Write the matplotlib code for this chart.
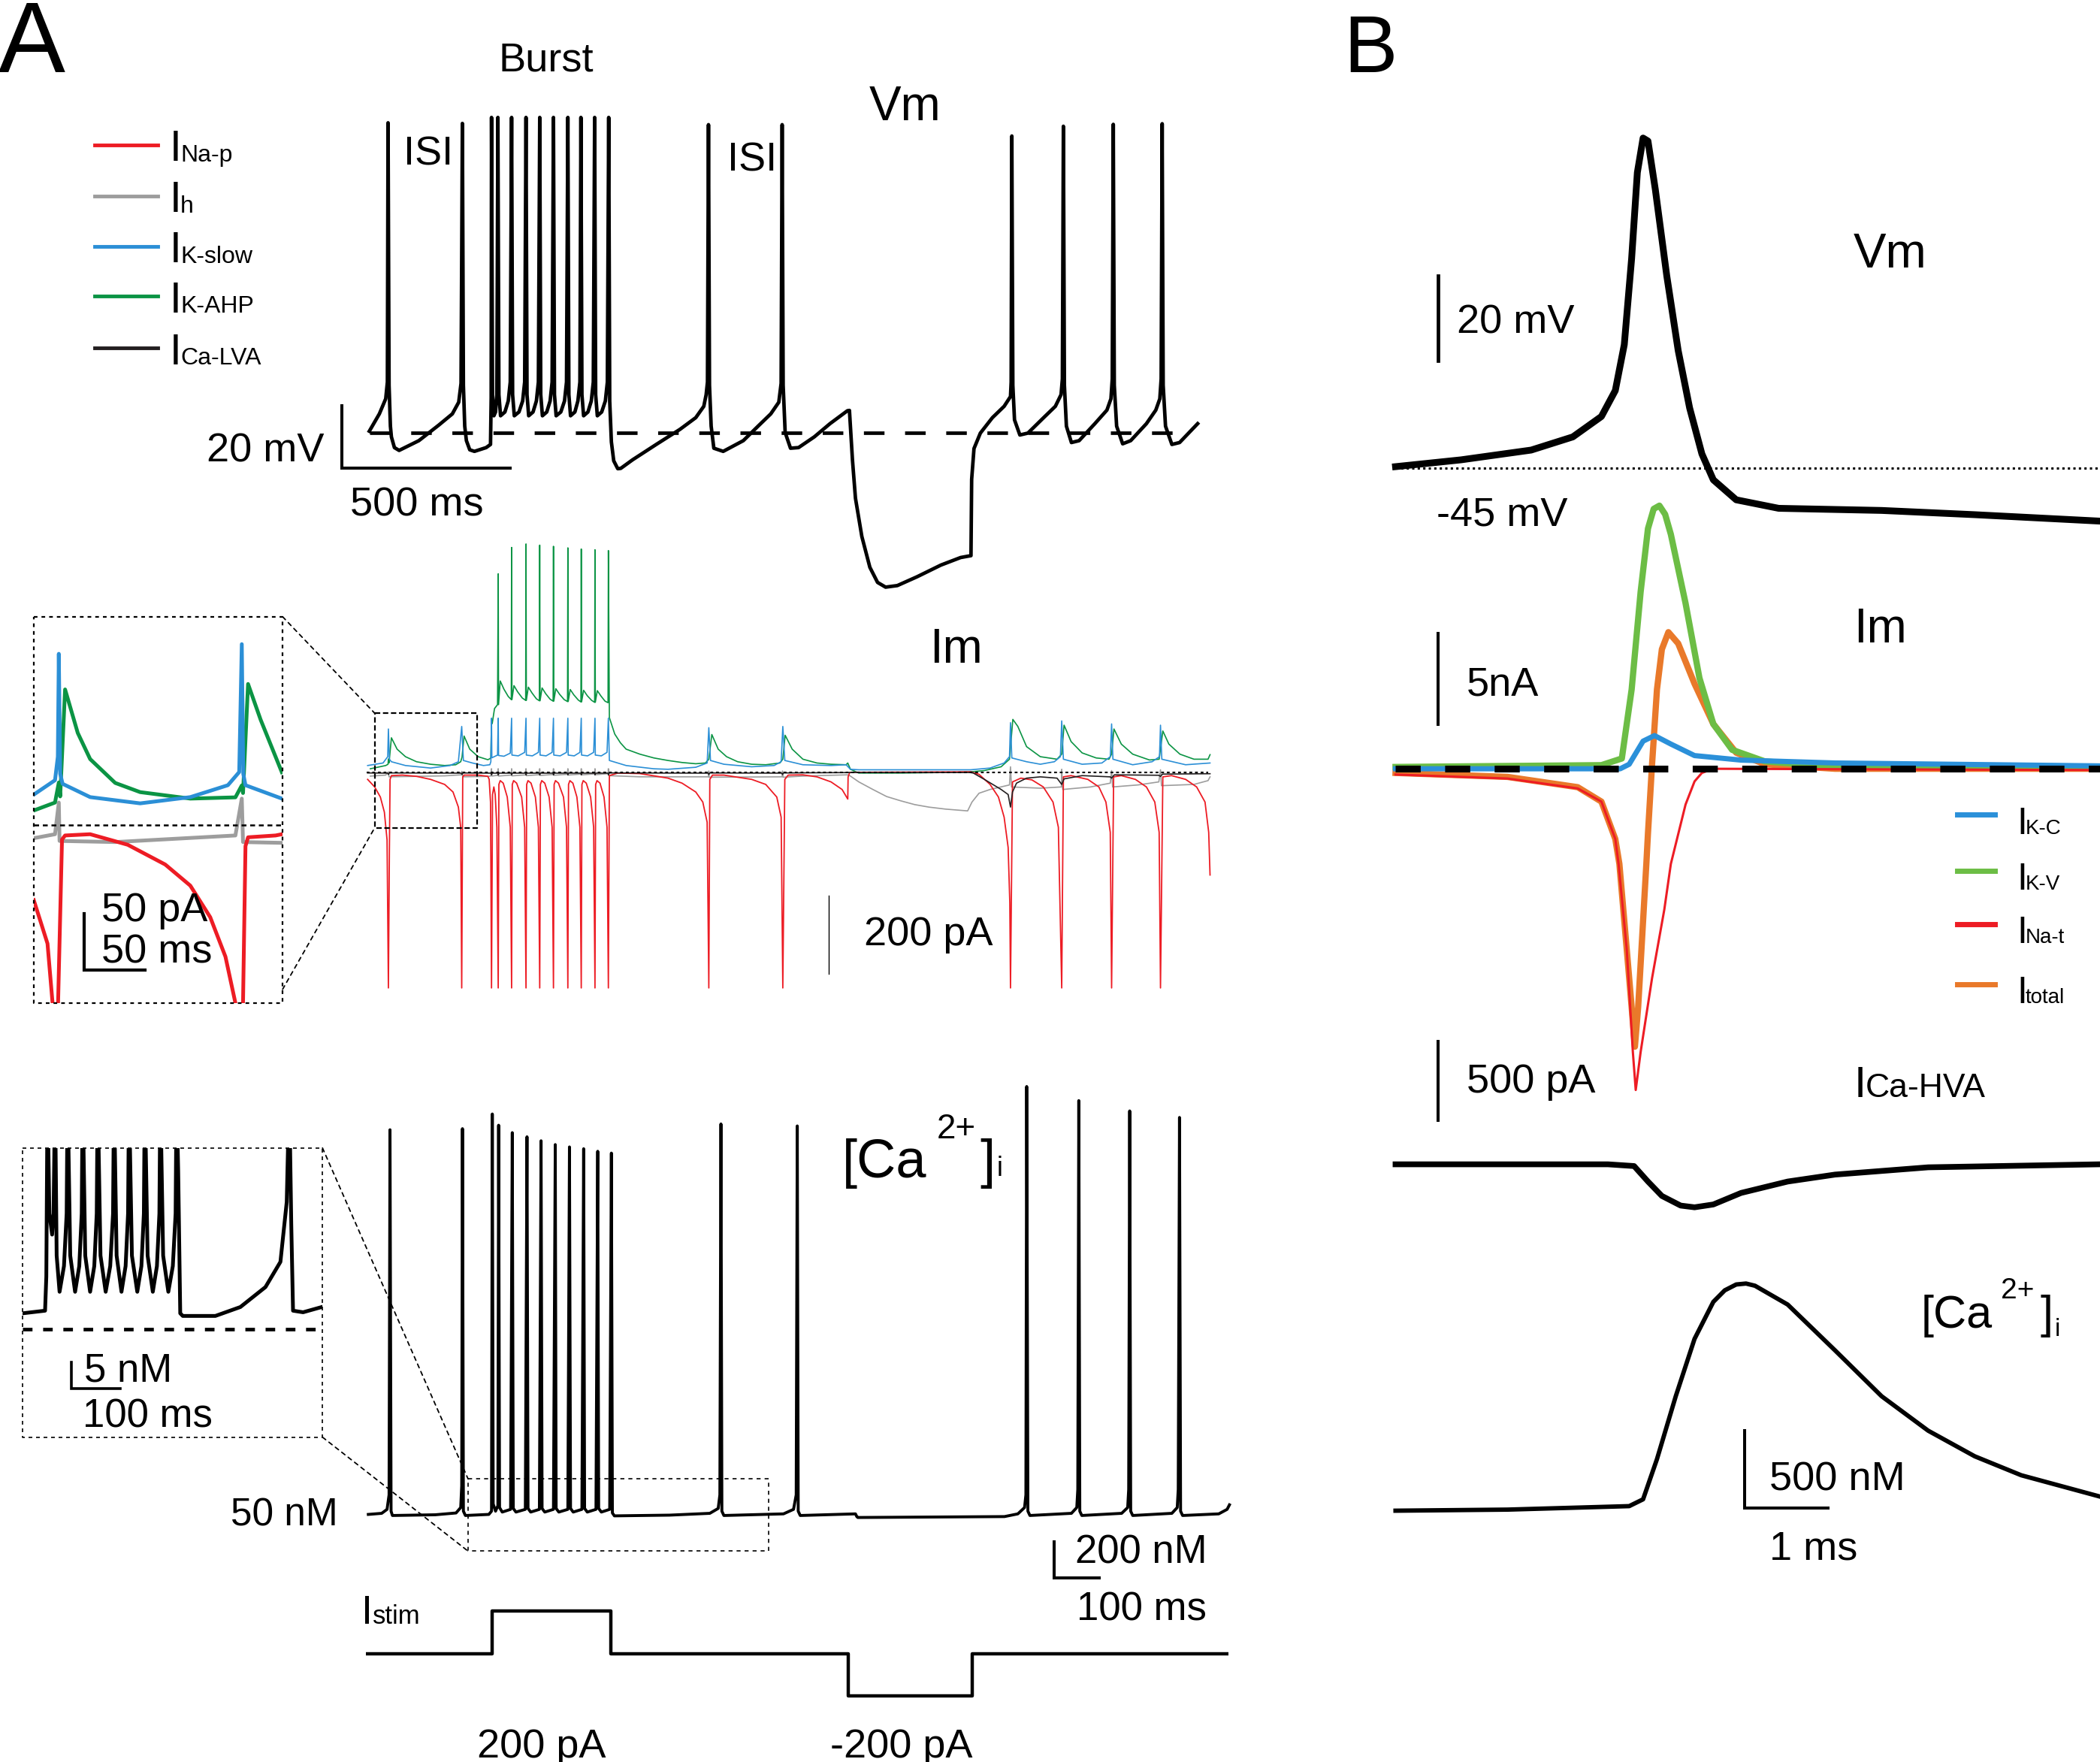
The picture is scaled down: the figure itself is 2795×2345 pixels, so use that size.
"""
Simulated burst firing: membrane potential, ionic currents, intracellular
calcium and stimulus (panel A), single action potential close-up (panel B).
"""

import matplotlib
matplotlib.use("Agg")
import matplotlib.pyplot as plt
from matplotlib.lines import Line2D
from matplotlib.patches import ConnectionPatch

plt.rcParams["font.family"] = ["Liberation Sans", "DejaVu Sans"]

# ---------------------------------------------------------------------------
# Panel A data  (time in ms, Vm in mV, currents in pA, [Ca2+]i in nM)
# ---------------------------------------------------------------------------

VM_A = [
    (3, -59.6), (33, -54.1), (52, -49.3), (57, -44), (59, 38.3), (62, -45), (66, -58), (69, -61.4),
    (78, -64.8), (92, -65.7), (151, -62.6), (210, -57.7), (251, -54.1), (270, -50.4), (277, -44.4),
    (281, 38.1), (284, -45), (288, -58), (293, -62.6), (303, -65.5), (317, -66), (352, -64.8),
    (365, -63.8), (367, -49),
    (368, 40), (371, -48), (375, -54.7), (380, -53.5), (384, -48), (387, 40),
    (390, -48), (395, -54.7), (408, -53.5), (418, -50), (424, -44), (428, 40),
    (431, -48), (436, -54.7), (450, -53.5), (461, -50), (467, -44), (471, 40),
    (474, -48), (479, -54.7), (492, -53.5), (502, -50), (508, -44), (512, 40),
    (515, -48), (520, -54.7), (533, -53.5), (543, -50), (549, -44), (553, 40),
    (556, -48), (561, -54.7), (575, -53.5), (586, -50), (592, -44), (596, 40),
    (599, -48), (604, -54.7), (617, -53.5), (626, -50), (632, -44), (635, 40),
    (638, -48), (643, -54.7), (656, -53.5), (666, -50), (672, -44), (676, 40),
    (679, -48), (684, -54.7), (697, -53.5), (708, -50), (714, -44), (718, 40),
    (721, -50), (726, -63), (733, -69), (745, -71.5), (754, -71.4),
    (789, -68.7), (860, -63.8), (931, -59), (978, -55.3), (1002, -51.7), (1009, -48), (1013, -44),
    (1016, 37.7), (1019, -45), (1024, -58), (1032, -65), (1060, -66), (1120, -62.6), (1167, -57.7),
    (1202, -54.1), (1226, -50.4), (1233, -44.4), (1236, 37.7), (1239, -45), (1245, -60), (1261, -65),
    (1285, -64.8), (1332, -61.4), (1379, -57.2), (1431, -53.1), (1437, -53),
    (1446, -68.7), (1455, -80.9), (1474, -93), (1498, -102.8), (1521, -107.6), (1545, -109.1),
    (1580, -108.6), (1639, -105.8), (1710, -102.1), (1769, -99.7), (1800, -99.1),
    (1802, -74.9), (1809, -65.1), (1828, -60.2), (1864, -55.3), (1899, -51.7), (1918, -48.6),
    (1920, -44), (1922, 34.1), (1925, -45), (1930, -56), (1946, -60.8), (1970, -60.2), (2017, -55.3),
    (2052, -51.7), (2069, -48), (2073, -43), (2076, 37.2), (2079, -45), (2085, -58), (2100, -63.2),
    (2123, -62.6), (2170, -57.2), (2206, -52.9), (2218, -49.3), (2222, -43), (2225, 37.8),
    (2228, -45), (2235, -58), (2253, -63.6), (2277, -62.6), (2324, -57.2), (2352, -52.9),
    (2364, -49.3), (2368, -43), (2371, 38), (2374, -45), (2381, -58), (2400, -63.8), (2423, -63.2),
    (2477, -57.2),
]

I_NAP = [
    (-2, -17.6), (19, -37.1), (36, -63.1), (48, -102), (56, -173.5), (60, -555), (63, -200), (65, -17.6),
    (69, -7.9), (102, -6.6), (144, -9.8), (186, -17.6), (228, -30.6), (253, -50.1), (269, -89),
    (276, -141), (279, -555), (282, -11.1), (286, -6.6), (328, -6.6), (357, -9.8), (361, -17.6),
    (365, -76), (368, -555), (371, -56.6), (375, -37.1), (379, -56.6), (384, -141), (388, -555),
    (390, -30.6), (394, -20.8), (403, -27.3), (415, -63.1), (424, -141), (428, -555),
    (430, -30.6), (434, -20.8), (443, -27.3), (458, -63.1), (467, -141), (471, -555),
    (473, -30.6), (477, -20.8), (486, -27.3), (499, -63.1), (508, -141), (512, -555),
    (514, -30.6), (518, -20.8), (527, -27.3), (540, -63.1), (549, -141), (553, -555),
    (555, -30.6), (559, -20.8), (568, -27.3), (583, -63.1), (592, -141), (596, -555),
    (598, -30.6), (602, -20.8), (611, -27.3), (623, -63.1), (632, -141), (636, -555),
    (638, -30.6), (642, -20.8), (651, -27.3), (664, -63.1), (673, -141), (677, -555),
    (679, -30.6), (683, -20.8), (692, -27.3), (704, -63.1), (713, -141), (717, -555),
    (720, -7.9), (745, -1.3), (811, -2.6), (895, -14.4), (937, -27.3), (978, -50.1), (999, -76),
    (1012, -128), (1017, -555), (1020, -17.6), (1028, -6.6), (1062, -6.6), (1145, -17.6),
    (1187, -30.6), (1220, -63.1), (1233, -115), (1238, -555), (1244, -17.6), (1254, -6.6),
    (1298, -5.9), (1340, -11.1), (1382, -24.1), (1415, -43.6), (1432, -68.3), (1433, -11.1),
    (1438, 0.5), (1799, 1.9), (1824, -4.6), (1857, -30.6), (1882, -63.1), (1899, -115), (1911, -193),
    (1916, -336), (1918, -555), (1924, -24.1), (1949, -14.4), (1982, -18.9), (2016, -37.1),
    (2045, -76), (2061, -141), (2071, -555), (2076, -11.1), (2099, -7.9), (2149, -17.6),
    (2182, -37.1), (2203, -76), (2216, -154), (2220, -555), (2226, -11.1), (2249, -7.9),
    (2291, -17.6), (2324, -37.1), (2349, -76), (2362, -154), (2366, -555), (2373, -11.1),
    (2399, -7.9), (2441, -17.6), (2474, -37.1), (2499, -76), (2510, -154), (2514, -264),
]

I_H = [
    (6, -9.2), (52, -6.6), (60, 2), (62, -11), (228, -8.5), (277, -5.9), (279, 3), (282, -11),
    (361, -9.8), (367, -8), (368, 10), (369, -9), (387, -7), (388, 10), (389, -9), (427, -6.5),
    (428, 10), (429, -8.5), (470, -6), (471, 10), (472, -8), (511, -5.5), (512, 10), (513, -7.5),
    (552, -5), (553, 10), (554, -7), (595, -4.5), (596, 10), (597, -6.5), (635, -4), (636, 10),
    (637, -6), (676, -3.5), (677, 10), (678, -5.5), (716, -3), (717, 10), (718, -8), (811, -11),
    (1016, -11), (1017, 4), (1018, -12), (1236, -11), (1237, 4), (1239, -12), (1300, -9),
    (1431, -5.9), (1438, -8), (1465, -24.1), (1507, -43.6), (1548, -61.8), (1590, -72.8),
    (1632, -82.6), (1674, -89), (1724, -94.2), (1790, -98.8), (1803, -76), (1824, -53.3),
    (1857, -43.6), (1915, -31.9), (1918, 14.9), (1921, -37.1), (2007, -40.3), (2070, -37.1),
    (2071, 8.4), (2074, -43.6), (2157, -37.1), (2216, -27.3), (2220, 5.1), (2223, -37.1),
    (2299, -31.9), (2361, -24.1), (2366, 7.1), (2369, -33.8), (2466, -30.6), (2508, -20.8),
    (2514, -11.1),
]

I_KSLOW = [
    (-2, 18.1), (44, 24.6), (58, 40.9), (60, 112.3), (63, 34.4), (69, 27.9), (111, 18.1), (186, 11.6),
    (244, 18.1), (269, 27.9), (279, 118.8), (284, 31.1), (311, 24.6), (344, 18.1), (363, 20.1),
    (366, 28), (368, 140), (369, 38), (386, 45), (388, 140), (389, 44), (405, 42), (424, 50),
    (428, 140), (429, 45), (448, 43), (467, 52), (471, 140), (472, 45), (490, 43), (508, 52),
    (512, 140), (513, 45), (531, 43), (549, 52), (553, 140), (554, 45), (573, 43), (592, 52),
    (596, 140), (597, 45), (615, 43), (632, 52), (636, 140), (637, 45), (655, 43), (673, 52),
    (677, 140), (678, 45), (696, 43), (713, 52), (717, 140), (720, 31.1), (770, 18.1), (853, 9.7),
    (895, 8.4), (978, 13.6), (1012, 24.6), (1017, 115.6), (1022, 31.1), (1062, 21.4), (1145, 14.9),
    (1212, 18.1), (1233, 27.9), (1238, 118.8), (1244, 31.1), (1298, 20.1), (1382, 18.1),
    (1427, 20.1), (1440, 8.4), (1465, 7.1), (1799, 7.1), (1857, 11.6), (1899, 24.6), (1915, 40.9),
    (1918, 128.5), (1922, 37.6), (1966, 27.9), (2007, 21.4), (2049, 27.9), (2067, 40.9),
    (2071, 133.1), (2076, 34.4), (2132, 21.4), (2191, 24.6), (2216, 40.9), (2220, 125.3),
    (2224, 34.4), (2283, 20.1), (2341, 27.9), (2363, 40.9), (2366, 122.1), (2370, 34.4),
    (2441, 20.1), (2514, 24.6),
]

I_KAHP = [
    (6, 9.7), (52, 18.1), (59, 21.4), (60, 35), (62, 25), (69, 89.6), (86, 60.3), (111, 40.9),
    (144, 27.9), (186, 21.4), (228, 18.1), (261, 20.1), (276, 27.9), (280, 40), (286, 94.1),
    (303, 60.3), (328, 40.9), (357, 33.1), (363, 35.7), (366, 38), (368, 136), (370, 126),
    (377, 165), (386, 175), (388, 512), (389, 175), (394, 236), (405, 215), (418, 196), (427, 188),
    (428, 580), (429, 188), (435, 224), (446, 208), (460, 192), (470, 186),
    (471, 589), (472, 186), (478, 220), (489, 205), (502, 190), (511, 185),
    (512, 586), (513, 185), (519, 218), (530, 203), (543, 189), (552, 184),
    (553, 583), (554, 184), (560, 216), (571, 202), (585, 188), (595, 183),
    (596, 579), (597, 183), (603, 214), (614, 200), (627, 187), (635, 182),
    (636, 576), (637, 182), (643, 212), (654, 198), (667, 186), (676, 181),
    (677, 574), (678, 181), (684, 211), (695, 197), (707, 184), (716, 180),
    (717, 572), (720, 141.5), (736, 99.3), (753, 76.6), (770, 60.3), (811, 47.4), (853, 37.6),
    (895, 31.1), (937, 25.9), (978, 22.7), (1007, 24.6), (1017, 34.4), (1026, 98), (1045, 60.3),
    (1070, 40.9), (1103, 27.9), (1145, 21.4), (1187, 20.1), (1229, 24.6), (1238, 34.4),
    (1245, 96.1), (1266, 60.3), (1298, 34.4), (1340, 24.6), (1382, 21.4), (1427, 20.1),
    (1432, 24.6), (1440, 8.4), (1465, -1.3), (1590, -1.3), (1757, 0.6), (1799, 1.9), (1840, 5.1),
    (1890, 14.9), (1915, 34.4), (1925, 137), (1940, 118.8), (1966, 66.8), (2007, 40.9),
    (2057, 34.4), (2071, 47.4), (2078, 122.1), (2099, 79.8), (2132, 50.6), (2174, 37.6),
    (2212, 34.4), (2220, 47.4), (2227, 112.3), (2249, 73.3), (2283, 47.4), (2333, 32.4),
    (2362, 34.4), (2373, 107.1), (2391, 73.3), (2424, 47.4), (2466, 34.4), (2508, 34.4),
    (2514, 46.1),
]

I_CALVA = [
    (-2, -1), (58, -1.5), (60, -5), (63, -1), (278, -1.5), (280, -5), (283, -1), (366, -1.5),
    (368, -6), (370, -1.5), (387, -1.5), (388, -6), (390, -1.5), (427, -1.5), (428, -6),
    (430, -1.5), (470, -1.5), (471, -6), (473, -1.5), (511, -1.5), (512, -6), (514, -1.5),
    (552, -1.5), (553, -6), (555, -1.5), (595, -1.5), (596, -6), (598, -1.5), (635, -1.5),
    (636, -6), (638, -1.5), (676, -1.5), (677, -6), (679, -1.5), (716, -1.5), (717, -6),
    (720, -1), (1015, -1.5), (1017, -5), (1020, -1), (1235, -1.5), (1237, -5), (1240, -1),
    (1438, 0), (1799, 0), (1807, -1.3), (1840, -17.6), (1890, -43.6), (1911, -56.6), (1918, -89),
    (1924, -50.1), (1936, -27.3), (1966, -14.4), (2007, -11.1), (2057, -14.4), (2071, -30.6),
    (2078, -16.3), (2132, -7.9), (2216, -11.1), (2220, -14.4), (2228, -5.9), (2361, -7),
    (2366, -10), (2372, -4), (2514, -3),
]

CA_A = [
    (0, 42), (40, 48), (56, 70), (62, 150), (64.8, 2168), (68, 60), (72, 36), (200, 40), (262, 50),
    (276, 80), (279, 200), (281.2, 2174), (284, 60), (290, 36), (360, 42), (368, 60),
    (370.4, 2255), (373, 100), (380, 60), (387, 90), (389.2, 2193), (392, 80), (400, 55), (425, 70),
    (430, 2152), (433, 75), (441, 55), (469, 70), (474, 2129), (477, 75), (485, 55), (511, 70),
    (516, 2107), (519, 75), (527, 55), (553, 70), (558.4, 2086), (561, 75), (569, 55), (596, 70),
    (600.8, 2073), (604, 75), (612, 55), (638, 70), (643.2, 2063), (646, 75), (654, 55), (680, 70),
    (685.2, 2049), (688, 75), (696, 55), (721, 70), (726, 2039), (729, 50), (735, 34), (900, 38),
    (1020, 48), (1045, 75), (1050, 150), (1053.2, 2200), (1056, 60), (1062, 36), (1240, 45),
    (1270, 70), (1278, 150), (1281.2, 2189), (1284, 60), (1290, 36), (1455, 45), (1459, 30),
    (1462, 25), (1900, 30), (1940, 45), (1960, 80), (1964, 150), (1966.4, 2407), (1970, 60),
    (1976, 36), (2100, 48), (2116, 80), (2119, 180), (2122, 2329), (2125, 60), (2131, 36),
    (2250, 48), (2268, 80), (2271, 180), (2274, 2272), (2277, 60), (2283, 36), (2400, 48),
    (2416, 80), (2419, 180), (2422.8, 2236), (2426, 60), (2432, 36), (2540, 45), (2565, 70),
    (2572, 95),
]

STIM = [(-8, 0), (369, 0), (369, 200), (725, 200), (725, 0), (1434, 0), (1434, -200),
        (1804, -200), (1804, 0), (2568, 0)]

# zoomed insets (own ms / pA / nM scales)
INS_KSLOW = [(0, 26.6), (17.3, 39.3), (19.6, 60), (20.4, 150.7), (21.5, 45), (23.5, 36.1),
             (45.9, 24.4), (86.6, 18.9), (127.4, 24.4), (158.0, 34.9), (167.2, 46.5),
             (169.3, 159.2), (170.5, 45), (172.3, 34.9), (201.9, 23.1)]
INS_KAHP = [(0, 12.6), (17.3, 19.6), (20.4, 37.3), (21.5, 25), (25.5, 119.3), (35.8, 81.0),
            (45.9, 57.9), (66.3, 36.9), (86.6, 28.8), (127.4, 23.1), (164.1, 24.2), (169.3, 34.7),
            (170.3, 28), (174.4, 124.1), (184.6, 92.7), (201.9, 46.3)]
INS_H = [(0, -11.8), (17.3, -8.3), (20.4, 19.6), (21.0, -14.2), (66.3, -15.2), (164.1, -9.4),
         (169.3, 23.1), (170.3, -15.2), (201.9, -15.9)]
INS_NAP = [(0, -66.3), (11.2, -104.7), (15.3, -157), (17.5, -400), (19.8, -157), (23.0, -13),
           (25.5, -9.4), (45.9, -8.3), (76.5, -17.6), (107, -35), (127.4, -53.6), (143.6, -81.4),
           (156, -116.2), (164.1, -157), (167, -400), (170.3, -157), (172.3, -18.8), (174.4, -11),
           (196.8, -9.4), (201.9, -8.3)]
INS_CA = [
    (0, 53.0), (48.7, 53.5), (51.4, 60), (54.0, 95), (58, 72), (63.9, 68), (67, 72), (70.3, 95),
    (73.7, 64), (80, 57.1), (89.5, 62), (95.3, 72), (97.3, 95),
    (103, 64), (113.5, 57.1), (122.5, 62), (127.8, 72), (129.8, 95),
    (135.4, 64), (145.9, 57.1), (154.9, 62), (160.2, 72), (162.2, 95),
    (168.3, 64), (179.5, 57.1), (189.3, 62), (195.4, 72), (197.4, 95),
    (203.1, 64), (213.6, 57.1), (222.5, 62), (227.8, 72), (229.8, 95),
    (236.1, 64), (247.7, 57.1), (256.6, 62), (261.9, 72), (263.9, 95),
    (270, 64), (281.2, 57.1), (290.1, 62), (295.4, 72), (297.4, 95),
    (303.5, 64), (314.7, 57.1), (324.4, 62), (330.4, 72), (332.4, 95),
    (336, 80), (340.4, 53), (345.9, 52.5), (416.2, 52.5), (470.2, 54.2), (524.3, 58.0),
    (556.6, 62.8), (570.2, 74.2), (575.7, 95), (580, 70), (583.8, 53.5), (605.5, 53.2),
    (645.9, 54.2),
]

# ---------------------------------------------------------------------------
# Panel B data  (time in ms)
# ---------------------------------------------------------------------------

VM_B = [(0, -44.6), (0.80, -43.0), (1.66, -40.7), (2.17, -37.6), (2.52, -32.8), (2.69, -26.7),
        (2.80, -15.9), (2.89, 4.4), (2.96, 24.6), (3.03, 32.7), (3.09, 32.0), (3.18, 20.6),
        (3.32, 0.3), (3.46, -17.3), (3.60, -30.8), (3.75, -41.6), (3.89, -47.7), (4.17, -52.4),
        (4.69, -54.4), (5.95, -54.9), (7.09, -55.9), (8.61, -57.4)]
I_KV = [(0, 0.1), (2.52, 0.2), (2.77, 0.57), (2.89, 4.39), (3.0, 9.8), (3.09, 13.31), (3.16, 14.4),
        (3.23, 14.58), (3.30, 14.1), (3.37, 12.99), (3.55, 9.17), (3.72, 5.03), (3.89, 2.48),
        (4.12, 1.05), (4.52, 0.41), (5.38, 0.1), (8.61, 0.1)]
I_TOTAL = [(0, -0.23), (1.37, -0.45), (2.23, -1.02), (2.52, -1.82), (2.69, -3.89), (2.74, -5.27),
           (2.83, -10.0), (2.89, -13.2), (2.93, -15.4), (2.97, -13.2), (3.03, -8.44),
           (3.07, -5.27), (3.09, -3.57), (3.14, 0.25), (3.20, 4.39), (3.26, 6.62), (3.34, 7.57),
           (3.46, 6.94), (3.66, 4.71), (3.89, 2.48), (4.17, 0.89), (4.52, 0.25), (5.38, 0.0),
           (8.61, 0.0)]
I_NAT = [(0, -0.32), (1.37, -0.54), (2.23, -1.09), (2.52, -1.82), (2.69, -3.89), (2.73, -5.27),
         (2.83, -10.0), (2.905, -15.7), (2.94, -17.8), (3.0, -15.7), (3.14, -11.6), (3.29, -7.8),
         (3.37, -5.27), (3.55, -1.98), (3.66, -0.7), (3.75, -0.23), (3.89, 0.0), (8.61, -0.07)]
I_KC = [(0, 0.0), (2.75, 0.0), (2.86, 0.25), (3.03, 1.53), (3.17, 1.84), (3.37, 1.37),
        (3.66, 0.73), (4.23, 0.48), (5.38, 0.32), (8.61, 0.16)]
I_CAHVA = [(0, -40), (2.60, -40), (2.92, -51), (3.09, -149), (3.26, -240), (3.49, -301),
           (3.66, -312), (3.89, -294), (4.23, -221), (4.80, -149), (5.38, -105), (6.52, -59),
           (8.61, -40)]
CA_B = [(0, 50), (1.37, 56.8), (2.86, 78.8), (3.03, 122), (3.20, 376), (3.43, 774), (3.66, 1137),
        (3.89, 1371), (4.03, 1444), (4.17, 1481), (4.29, 1487), (4.40, 1473), (4.80, 1354),
        (5.38, 1064), (5.95, 774), (6.52, 556), (7.09, 394), (7.66, 274), (8.61, 141)]

LEGEND_A = [("Na-p", "#ED1C24"), ("h", "#9D9D9D"), ("K-slow", "#2B8FD6"),
            ("K-AHP", "#0B9444"), ("Ca-LVA", "#231F20")]
LEGEND_B = [("K-C", "#2B90D9"), ("K-V", "#6CBD45"), ("Na-t", "#ED1C24"), ("total", "#E9792A")]

# ---------------------------------------------------------------------------
# Layout helpers (positions given on a 1568 x 1316 grid)
# ---------------------------------------------------------------------------

W, H = 1568.0, 1316.0
fig = plt.figure(figsize=(27.95, 23.45), dpi=100)


def panel(x0, y0, x1, y1, xlim, ylim):
    ax = fig.add_axes([x0 / W, 1 - y1 / H, (x1 - x0) / W, (y1 - y0) / H])
    ax.set_xlim(*xlim)
    ax.set_ylim(*ylim)
    ax.axis("off")
    return ax


def label(x, y, s, size, ha="left"):
    fig.text(x / W, 1 - y / H, s, fontsize=size, ha=ha, va="baseline")


def trace(ax, pts, color="k", lw=2.0, clip=False, **kw):
    t, v = zip(*pts)
    ax.plot(t, v, color=color, lw=lw, clip_on=clip, solid_joinstyle="round", **kw)


def connect(axa, xya, axb, xyb):
    con = ConnectionPatch(xyA=xya, coordsA="data", axesA=axa, xyB=xyb, coordsB="data",
                          axesB=axb, color="k", lw=1.3, linestyle=(0, (3, 3)))
    fig.add_artist(con)


def frame(ax, x0, x1, y0, y1, lw, dashes):
    ax.plot([x0, x1, x1, x0, x0], [y1, y1, y0, y0, y1], color="k", lw=lw,
            dashes=dashes, clip_on=False)


# ---------------------------------------------------------------------------
# Panel A
# ---------------------------------------------------------------------------

ax_vm = panel(273, 60, 918, 460, (-8, 2572), (-118.225, 51.775))
ax_im = panel(273, 400, 918, 760, (-8, 2572), (-631.35, 610.65))
ax_ca = panel(273, 800, 918, 1190, (-8, 2572), (-394, 2492))
ax_st = panel(273, 1180, 918, 1290, (-8, 2572), (-346.5, 346.5))
ax_i1 = panel(25.2, 460.6, 211, 749, (0, 202.5), (-156.9, 183.4))
ax_i2 = panel(16.8, 857.4, 240.8, 1073.4, (0, 647.4), (29.4, 84.5))

# Vm
trace(ax_vm, VM_A, lw=3.4)
ax_vm.plot([3, 2442], [-60, -60], color="k", lw=3.4, dashes=(5.8, 5.8), clip_on=False)
ax_vm.plot([-78, -78, 423], [-51.4, -71.4, -71.4], color="k", lw=2.9, clip_on=False,
           solid_joinstyle="miter")

# Im
trace(ax_im, I_H, color="#9D9D9D", lw=1.2)
trace(ax_im, I_KAHP, color="#0B9444", lw=1.2)
trace(ax_im, I_KSLOW, color="#2B8FD6", lw=1.2)
trace(ax_im, I_NAP, color="#ED1C24", lw=1.3)
trace(ax_im, I_CALVA, color="#231F20", lw=1.2)
ax_im.plot([-5, 2508], [0, 0], color="k", lw=1.5, dashes=(1.8, 1.8), clip_on=False)
ax_im.plot([1376, 1376], [-318, -518], color="k", lw=1.0, clip_on=False)
frame(ax_im, 18.8, 326, -142.8, 153.2, 1.6, (3.2, 1.6))

# Im inset
trace(ax_i1, INS_H, color="#9D9D9D", lw=3.6, clip=True)
trace(ax_i1, INS_KAHP, color="#0B9444", lw=3.6, clip=True)
trace(ax_i1, INS_KSLOW, color="#2B8FD6", lw=3.6, clip=True)
trace(ax_i1, INS_NAP, color="#ED1C24", lw=3.6, clip=True)
ax_i1.plot([0, 202.5], [0, 0], color="k", lw=1.8, dashes=(2.6, 2.0), clip_on=False)
frame(ax_i1, 0, 202.5, -156.9, 183.4, 1.6, (2.2, 2.4))
ax_i1.plot([40.8, 40.8, 90.8], [-78, -127.9, -127.9], color="k", lw=3.0, clip_on=False,
           solid_joinstyle="miter")
connect(ax_i1, (202.5, 183.4), ax_im, (18.8, 153.2))
connect(ax_i1, (202.5, -145), ax_im, (18.8, -142.8))

# [Ca2+]i
trace(ax_ca, CA_A, lw=2.8)
frame(ax_ca, 298, 1196, -161, 238, 1.2, (3.2, 3.2))
ax_ca.plot([2048, 2048, 2182], [-111, -311, -311], color="k", lw=2.9, clip_on=False,
           solid_joinstyle="miter")

# [Ca2+]i inset
trace(ax_i2, INS_CA, lw=3.6, clip=True)
ax_i2.plot([0, 647.4], [50, 50], color="k", lw=3.4, dashes=(2.7, 3.0), clip_on=False)
frame(ax_i2, 0, 647.4, 29.4, 84.5, 1.2, (3.0, 3.0))
ax_i2.plot([105.5, 105.5, 211], [43.7, 38.7, 38.7], color="k", lw=2.6, clip_on=False,
           solid_joinstyle="miter")
connect(ax_i2, (647.4, 84.5), ax_ca, (298, 238))
connect(ax_i2, (647.4, 29.4), ax_ca, (298, -161))

# stimulus
trace(ax_st, STIM, lw=3.2, solid_capstyle="butt")

# panel A text
fig.text(-1 / W, 1 - 54 / H, "A", fontsize=96, ha="left", va="baseline")
label(372, 53, "Burst", 39)
label(649, 90, "Vm", 46)
label(301, 123, "ISI", 39)
label(543, 127.6, "ISI", 39)
label(242, 345, "20 mV", 39, ha="right")
label(261.5, 385, "500 ms", 39)
label(694, 495, "Im", 46)
label(645, 706, "200 pA", 39)
label(75.7, 688, "50 pA", 39)
label(75.7, 719, "50 ms", 39)
label(628.7, 879.5, "[Ca", 52)
label(699.5, 850, "2+", 33)
label(732, 879.5, "]", 52)
label(744, 878, "i", 26)
label(172.4, 1139.4, "50 nM", 37)
label(803, 1167.7, "200 nM", 38)
label(804, 1210, "100 ms", 38)
label(62.6, 1032, "5 nM", 38)
label(61.7, 1066, "100 ms", 38)
label(269.8, 1212.6, "I", 39)
label(278, 1212.6, "stim", 25)
label(356, 1312.7, "200 pA", 39)
label(620, 1312.7, "-200 pA", 39)

for row, (name, color) in zip([108.2, 146.5, 184.0, 221.2, 259.9], LEGEND_A):
    fig.add_artist(Line2D([70.8 / W, 118 / W], [1 - row / H] * 2, color=color, lw=3.5,
                          transform=fig.transFigure))
    label(126.9, row + 12, "I", 41)
    label(134.6, row + 12.5, name, 23)

# ---------------------------------------------------------------------------
# Panel B
# ---------------------------------------------------------------------------

bx_vm = panel(1042, 60, 1568, 420, (0, 8.623), (-67.11, 46.28))
bx_im = panel(1042, 360, 1568, 830, (0, 8.623), (-18.98, 15.89))
bx_ica = panel(1042, 760, 1568, 920, (0, 8.623), (-466.9, 888.3))
bx_ca = panel(1042, 930, 1568, 1180, (0, 8.623), (-387.9, 1729.6))

bx_vm.plot([0, 8.623], [-45, -45], color="k", lw=2.2, dashes=(1.0, 1.4), clip_on=False)
trace(bx_vm, VM_B, lw=6.5)
bx_vm.plot([0.525, 0.525], [0.3, -19.7], color="k", lw=3.4, clip_on=False)

trace(bx_im, I_TOTAL, color="#E9792A", lw=6.0)
trace(bx_im, I_KV, color="#6CBD45", lw=6.0)
trace(bx_im, I_KC, color="#2B90D9", lw=5.0)
trace(bx_im, I_NAT, color="#ED1C24", lw=2.2)
bx_im.plot([0, 8.623], [0, 0], color="k", lw=6.5, dashes=(3.7, 3.6), clip_on=False,
           solid_capstyle="butt", dash_capstyle="butt")
bx_im.plot([0.525, 0.525], [7.48, 2.48], color="k", lw=2.9, clip_on=False)

trace(bx_ica, I_CAHVA, lw=5.5)
bx_ica.plot([0.525, 0.525], [738, 238], color="k", lw=2.9, clip_on=False)

trace(bx_ca, CA_B, lw=4.2)
bx_ca.plot([4.27, 4.27, 5.29], [556, 66, 66], color="k", lw=2.9, clip_on=False,
           solid_joinstyle="miter")

fig.text(1003 / W, 1 - 54 / H, "B", fontsize=77, ha="left", va="baseline")
label(1384, 199.6, "Vm", 47)
label(1088, 249, "20 mV", 39)
label(1072.6, 392.7, "-45 mV", 39)
label(1384, 479.8, "Im", 46)
label(1095, 519.3, "5nA", 39)
label(1095, 816.2, "500 pA", 39)
label(1384.6, 819.6, "I", 42)
label(1392.6, 819.6, "Ca-HVA", 32)
label(1434.5, 991.5, "[Ca", 44)
label(1493.8, 970, "2+", 28)
label(1523.4, 991.5, "]", 44)
label(1534, 998, "i", 24)
label(1321, 1113.4, "500 nM", 39)
label(1321, 1164.7, "1 ms", 39)

for row, (name, color) in zip([608.6, 650.2, 690.1, 735.0], LEGEND_B):
    fig.add_artist(Line2D([1461.3 / W, 1489.3 / W], [1 - row / H] * 2, color=color, lw=5,
                          transform=fig.transFigure))
    label(1506, row + 14.4, "I", 36)
    label(1512.3, row + 14.4, name, 20)

fig.savefig("out.png", dpi=100)
